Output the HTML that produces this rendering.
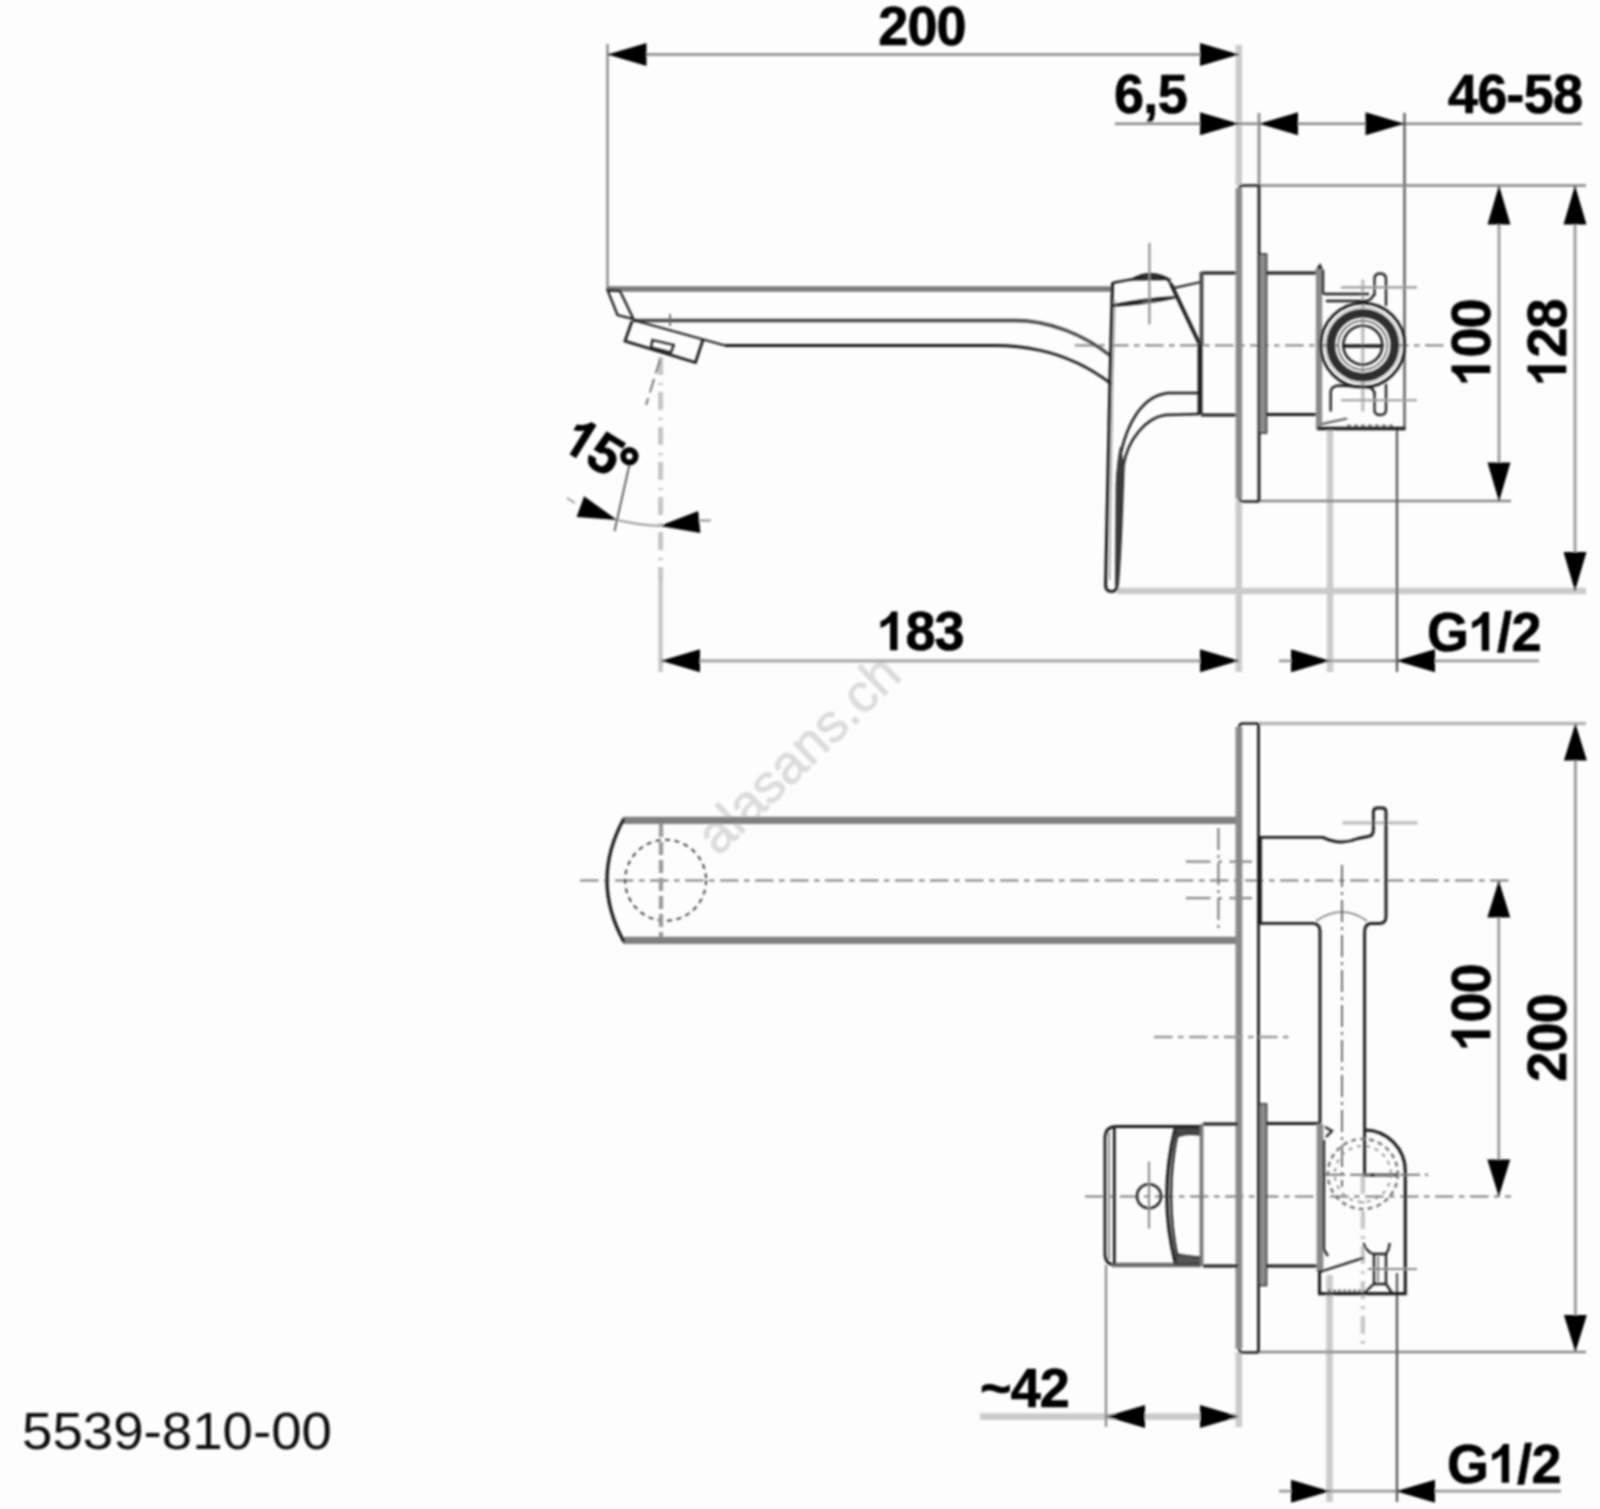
<!DOCTYPE html>
<html><head><meta charset="utf-8"><title>5539-810-00</title>
<style>
html,body{margin:0;padding:0;background:#fdfdfd;}
svg{display:block;font-family:"Liberation Sans",sans-serif;}
</style></head>
<body>
<svg width="1600" height="1509" viewBox="0 0 1600 1509">
<defs><filter id="b" x="-2%" y="-2%" width="104%" height="104%"><feGaussianBlur stdDeviation="0.9"/></filter></defs>
<rect width="1600" height="1509" fill="#fdfdfd"/>
<g filter="url(#b)" stroke-linecap="butt">
<line x1="1238.8" y1="45" x2="1238.8" y2="186" stroke="#cbcbcb" stroke-width="6.6" />
<line x1="1238.8" y1="500" x2="1238.8" y2="672" stroke="#cbcbcb" stroke-width="6.6" />
<line x1="1117" y1="591" x2="1586" y2="591" stroke="#cbcbcb" stroke-width="6.6" />
<line x1="1330" y1="429" x2="1330" y2="672" stroke="#cbcbcb" stroke-width="6.6" />
<line x1="660.6" y1="357" x2="660.6" y2="580" stroke="#c4c4c4" stroke-width="4.8" stroke-dasharray="18 8 2 7"/>
<line x1="660.6" y1="578" x2="660.6" y2="672" stroke="#c4c4c4" stroke-width="4.3" />
<line x1="1362.8" y1="279.5" x2="1362.8" y2="411.5" stroke="#bdbdbd" stroke-width="3.3" />
<line x1="1259" y1="723.5" x2="1586" y2="723.5" stroke="#b4b4b4" stroke-width="3.3" />
<line x1="980" y1="1416.6" x2="1239" y2="1416.6" stroke="#cbcbcb" stroke-width="6.6" />
<line x1="1238.8" y1="1352" x2="1238.8" y2="1427" stroke="#cbcbcb" stroke-width="6.6" />
<line x1="1329.5" y1="1275" x2="1329.5" y2="1502" stroke="#cbcbcb" stroke-width="6.6" />
<line x1="1362.8" y1="1176" x2="1362.8" y2="1352" stroke="#c8c8c8" stroke-width="4.3" stroke-dasharray="18 7 3 7"/>
<line x1="1342.5" y1="822.8" x2="1417.5" y2="822.8" stroke="#bdbdbd" stroke-width="3.3" />
<text x="718" y="857" font-size="54" font-weight="normal" text-anchor="start" fill="#dcdcdc" transform="rotate(-44 718 857)" stroke="#dcdcdc" stroke-width="1">alasans.ch</text>
<line x1="607.5" y1="54.5" x2="1239" y2="54.5" stroke="#9a9a9a" stroke-width="2.8" />
<line x1="607.5" y1="44" x2="607.5" y2="290" stroke="#868686" stroke-width="2.3" />
<polygon points="607.5,54.5 646.5,43.0 646.5,66.0" fill="#000"/>
<polygon points="1239.0,54.5 1200.0,66.0 1200.0,43.0" fill="#000"/>
<g transform="translate(922 46) scale(1 1.04) translate(0 -0.7)" font-size="54" font-weight="bold" fill="#000" stroke="#000" stroke-width="0.7">
<text x="-43.78" y="0">2</text>
<text x="-14.59" y="0">0</text>
<text x="14.59" y="0">0</text>
</g>
<line x1="1115" y1="123.75" x2="1582" y2="123.75" stroke="#868686" stroke-width="2.3" />
<polygon points="1239.0,123.8 1200.0,135.2 1200.0,112.2" fill="#000"/>
<polygon points="1259.0,123.8 1298.0,112.2 1298.0,135.2" fill="#000"/>
<polygon points="1404.5,123.8 1365.5,135.2 1365.5,112.2" fill="#000"/>
<g transform="translate(1114 113.5) scale(1 1.04) translate(0 -0.7)" font-size="54" font-weight="bold" fill="#000" stroke="#000" stroke-width="0.7">
<text x="0.00" y="0">6</text>
<text x="29.19" y="0">,</text>
<text x="43.77" y="0">5</text>
</g>
<g transform="translate(1448 113.5) scale(1 1.04) translate(0 -0.7)" font-size="54" font-weight="bold" fill="#000" stroke="#000" stroke-width="0.7">
<text x="0.00" y="0">4</text>
<text x="29.19" y="0">6</text>
<text x="58.37" y="0">-</text>
<text x="75.87" y="0">5</text>
<text x="105.06" y="0">8</text>
</g>
<line x1="1259" y1="113" x2="1259" y2="186" stroke="#8a8a8a" stroke-width="2.8" />
<line x1="1404.5" y1="113" x2="1404.5" y2="429" stroke="#555" stroke-width="2.3" />
<line x1="1259" y1="185.5" x2="1586" y2="185.5" stroke="#868686" stroke-width="2.5" />
<line x1="1259" y1="501" x2="1511" y2="501" stroke="#868686" stroke-width="2.3" />
<line x1="1499" y1="186" x2="1499" y2="501" stroke="#9a9a9a" stroke-width="2.8" />
<line x1="1575" y1="186" x2="1575" y2="591" stroke="#9a9a9a" stroke-width="2.8" />
<polygon points="1499.0,185.5 1510.5,224.5 1487.5,224.5" fill="#000"/>
<polygon points="1499.0,501.5 1487.5,462.5 1510.5,462.5" fill="#000"/>
<polygon points="1575.0,185.5 1586.5,224.5 1563.5,224.5" fill="#000"/>
<polygon points="1575.0,591.0 1563.5,552.0 1586.5,552.0" fill="#000"/>
<g transform="translate(1491 343) rotate(-90) scale(1 1.04) translate(0 -0.7)" font-size="54" font-weight="bold" fill="#000" stroke="#000" stroke-width="0.7">
<path d="M806 0H525V1059Q371 915 162 846V1101Q272 1137 401 1237.5Q530 1338 578 1472H806Z" transform="translate(-43.78 0) scale(0.02637 -0.02535)"/>
<text x="-14.59" y="0">0</text>
<text x="14.59" y="0">0</text>
</g>
<g transform="translate(1567 343) rotate(-90) scale(1 1.04) translate(0 -0.7)" font-size="54" font-weight="bold" fill="#000" stroke="#000" stroke-width="0.7">
<path d="M806 0H525V1059Q371 915 162 846V1101Q272 1137 401 1237.5Q530 1338 578 1472H806Z" transform="translate(-43.78 0) scale(0.02637 -0.02535)"/>
<text x="-14.59" y="0">2</text>
<text x="14.59" y="0">8</text>
</g>
<line x1="661" y1="660.8" x2="1239" y2="660.8" stroke="#a8a8a8" stroke-width="3.3" />
<polygon points="661.0,660.8 700.0,649.3 700.0,672.3" fill="#000"/>
<polygon points="1239.0,660.8 1200.0,672.3 1200.0,649.3" fill="#000"/>
<g transform="translate(920 651) scale(1 1.04) translate(0 -0.7)" font-size="54" font-weight="bold" fill="#000" stroke="#000" stroke-width="0.7">
<path d="M806 0H525V1059Q371 915 162 846V1101Q272 1137 401 1237.5Q530 1338 578 1472H806Z" transform="translate(-43.78 0) scale(0.02637 -0.02535)"/>
<text x="-14.59" y="0">8</text>
<text x="14.59" y="0">3</text>
</g>
<line x1="1279" y1="660.8" x2="1539" y2="660.8" stroke="#9a9a9a" stroke-width="2.8" />
<polygon points="1330.0,660.8 1291.0,672.3 1291.0,649.3" fill="#000"/>
<polygon points="1396.0,660.8 1435.0,649.3 1435.0,672.3" fill="#000"/>
<g transform="translate(1427 651.5) scale(1 1.04) translate(0 -0.7)" font-size="54" font-weight="bold" fill="#000" stroke="#000" stroke-width="0.7">
<text x="0.00" y="0">G</text>
<path d="M806 0H525V1059Q371 915 162 846V1101Q272 1137 401 1237.5Q530 1338 578 1472H806Z" transform="translate(40.82 0) scale(0.02637 -0.02535)"/>
<text x="70.01" y="0">/</text>
<text x="84.59" y="0">2</text>
</g>
<line x1="1397" y1="429" x2="1397" y2="672" stroke="#555" stroke-width="2.3" />
<line x1="660" y1="360" x2="646" y2="405" stroke="#666" stroke-width="1.8" stroke-dasharray="14 6"/>
<line x1="629.4" y1="465" x2="614.5" y2="531" stroke="#555" stroke-width="1.8" />
<path d="M617,520 Q638,525 660,526" stroke="#999" stroke-width="1.8" fill="none" />
<polygon points="617.0,520.0 576.6,517.0 584.1,496.3" fill="#000"/>
<polygon points="659.5,526.0 698.2,511.1 700.4,532.9" fill="#000"/>
<line x1="699" y1="520.5" x2="711" y2="520.5" stroke="#888" stroke-width="1.8" />
<line x1="567" y1="498" x2="575" y2="503" stroke="#999" stroke-width="1.8" />
<g transform="translate(557.5 447.5) rotate(32) scale(1 1.04) translate(0 -0.7)" font-size="54" font-weight="bold" fill="#000" stroke="#000" stroke-width="0.7">
<path d="M806 0H525V1059Q371 915 162 846V1101Q272 1137 401 1237.5Q530 1338 578 1472H806Z" transform="translate(0.00 0) scale(0.02637 -0.02535)"/>
<text x="29.19" y="0">5</text>
</g>
<circle cx="629.4" cy="456.3" r="6.2" fill="none" stroke="#000" stroke-width="6"/>
<line x1="1075" y1="345.3" x2="1444" y2="345.3" stroke="#8c8c8c" stroke-width="2.3" stroke-dasharray="18.5 5.5 5.5 5.5"/>
<line x1="607.5" y1="289" x2="1112" y2="289" stroke="#7a7a7a" stroke-width="5.3" />
<path d="M607.5,290 L620,291 L633.5,319 L617.5,315 Z" stroke="#1c1c1c" stroke-width="2.3" fill="none" />
<path d="M633,320.5 L1015,320.5 C1050,320.5 1085,335 1112,357" stroke="#4a4a4a" stroke-width="3.3" fill="none" />
<path d="M725,345.5 L995,345.5 C1040,345.5 1078,358 1112,384.4" stroke="#1c1c1c" stroke-width="2.8" fill="none" />
<line x1="633" y1="320" x2="725" y2="345.5" stroke="#1c1c1c" stroke-width="2.3" />
<path d="M632,321 L625,341 L695.5,362.5 L703,339.5" stroke="#1c1c1c" stroke-width="2.8" fill="none" />
<path d="M652.5,340 L673.75,345 L671,352.5 L651,347.5 Z" stroke="#1c1c1c" stroke-width="2.3" fill="none" />
<line x1="670" y1="314" x2="670" y2="326" stroke="#666" stroke-width="1.8" />
<path d="M1112.5,283 L1110,380 L1105.6,586 Q1106,591.5 1111.5,591.5 Q1117,591.5 1117,586" stroke="#1c1c1c" stroke-width="3.0999999999999996" fill="none" />
<path d="M1115,300 L1112.5,380 L1109.5,580" stroke="#aaa" stroke-width="1.8" fill="none" />
<path d="M1200,393 L1168,393 C1140,396 1120,430 1117,484 L1116.5,586" stroke="#1c1c1c" stroke-width="2.5" fill="none" />
<path d="M1200,414 L1165,415 C1145,418 1128,440 1123.5,465 C1122,500 1121,550 1117.5,586" stroke="#1c1c1c" stroke-width="2.5" fill="none" />
<path d="M1123.5,465 C1122,500 1121,550 1117.5,586 L1116,586 L1116.5,484 C1117,470 1118.5,455 1120.5,447 Z" stroke="#3a3a3a" stroke-width="1.1" fill="#3a3a3a" />
<path d="M1112,283 L1134,278.8" stroke="#1c1c1c" stroke-width="2.3" fill="none" />
<path d="M1132.5,279.3 Q1150,269 1168,279 Z" stroke="#1c1c1c" stroke-width="2.3" fill="#333" />
<path d="M1167,278.5 L1173.75,288 L1201,282" stroke="#1c1c1c" stroke-width="2.3" fill="none" />
<path d="M1113,305.5 Q1145,299 1175,297.5 Q1145,304 1113,305.5 Z" stroke="#1c1c1c" stroke-width="2.3" fill="none" />
<line x1="1171" y1="284" x2="1200" y2="345" stroke="#1c1c1c" stroke-width="3.6999999999999997" />
<path d="M1238,273 L1201,273 M1201,415 L1238,415" stroke="#1c1c1c" stroke-width="2.9" fill="none" />
<line x1="1201.5" y1="272" x2="1201.5" y2="346" stroke="#4a4a4a" stroke-width="3.9" />
<line x1="1200" y1="345" x2="1200" y2="414" stroke="#1c1c1c" stroke-width="4.8" />
<line x1="1149.4" y1="243" x2="1149.4" y2="324.5" stroke="#8a8a8a" stroke-width="2.1" />
<line x1="1143" y1="302" x2="1156" y2="302" stroke="#666" stroke-width="1.8" />
<path d="M1259,185.5 L1243,185.5 Q1239,185.5 1239,190 L1239,497 Q1239,501.5 1243,501.5 L1259,501.5" stroke="#1c1c1c" stroke-width="2.3" fill="none" />
<line x1="1238.9" y1="188" x2="1238.9" y2="499" stroke="#8a8a8a" stroke-width="6.6" />
<line x1="1259" y1="185.5" x2="1259" y2="501.5" stroke="#1c1c1c" stroke-width="2.8" />
<rect x="1259" y="254" width="7.5" height="179" fill="#8c8c8c" stroke="#1c1c1c" stroke-width="1.5"/>
<line x1="1267" y1="273" x2="1318" y2="273" stroke="#1c1c1c" stroke-width="2.8" />
<line x1="1267" y1="414.5" x2="1318" y2="414.5" stroke="#1c1c1c" stroke-width="2.8" />
<path d="M1317,270 L1320,265.5 L1322,270 Z" stroke="#1c1c1c" stroke-width="2.3" fill="#444" />
<line x1="1319" y1="269" x2="1319" y2="429" stroke="#8a8a8a" stroke-width="6.3" />
<line x1="1323" y1="270" x2="1323" y2="293" stroke="#1c1c1c" stroke-width="2.3" />
<line x1="1317" y1="428.5" x2="1405.5" y2="428.5" stroke="#1c1c1c" stroke-width="3.3" />
<circle cx="1362.8" cy="345.2" r="42" fill="none" stroke="#1c1c1c" stroke-width="2.8"/>
<circle cx="1362.8" cy="345.2" r="38" fill="none" stroke="#999" stroke-width="1"/>
<circle cx="1362.8" cy="345.2" r="32" fill="none" stroke="#2e2e2e" stroke-width="8.5"/>
<circle cx="1362.8" cy="345.2" r="24.5" fill="none" stroke="#555" stroke-width="1.5"/>
<circle cx="1362.8" cy="345.2" r="19.5" fill="none" stroke="#1c1c1c" stroke-width="2.5"/>
<line x1="1342.8" y1="346" x2="1382.8" y2="346" stroke="#1c1c1c" stroke-width="3.3" />
<path d="M1323,293 Q1323,294 1326,294 L1369,294" stroke="#1c1c1c" stroke-width="2.3" fill="none" />
<path d="M1326,301 L1366,301 Q1372,300 1374,294" stroke="#1c1c1c" stroke-width="2.3" fill="none" />
<path d="M1374.5,296 L1374.5,279 Q1374.5,273.5 1380,273.5 Q1386,273.5 1386,279 L1386,306" stroke="#1c1c1c" stroke-width="2.3" fill="none" />
<line x1="1341" y1="287.4" x2="1417" y2="287.4" stroke="#9a9a9a" stroke-width="2.1" />
<path d="M1330.7,411.5 L1330.7,392 Q1331,386 1339,385.5 L1368,387 Q1374,388 1374.5,394" stroke="#1c1c1c" stroke-width="2.3" fill="none" />
<path d="M1374.5,392 L1374.5,410 Q1374.5,415 1380,415 Q1386,415 1386,410 L1386,384" stroke="#1c1c1c" stroke-width="2.3" fill="none" />
<line x1="1341" y1="400.3" x2="1417" y2="400.3" stroke="#9a9a9a" stroke-width="2.1" />
<line x1="1347" y1="425.7" x2="1395" y2="425.7" stroke="#555" stroke-width="1.8" stroke-dasharray="4 3"/>
<path d="M1322,424 L1347,418.5" stroke="#555" stroke-width="1.8" fill="none" />
<line x1="1259" y1="1352" x2="1586" y2="1352" stroke="#868686" stroke-width="2.5" />
<line x1="1575.4" y1="724" x2="1575.4" y2="1352" stroke="#9a9a9a" stroke-width="2.8" />
<polygon points="1575.4,723.5 1586.9,760.5 1563.9,760.5" fill="#000"/>
<polygon points="1575.4,1352.0 1563.9,1315.0 1586.9,1315.0" fill="#000"/>
<line x1="1498.8" y1="881" x2="1498.8" y2="1196" stroke="#9a9a9a" stroke-width="2.8" />
<polygon points="1498.8,880.5 1510.3,917.5 1487.3,917.5" fill="#000"/>
<polygon points="1498.8,1196.5 1487.3,1159.5 1510.3,1159.5" fill="#000"/>
<g transform="translate(1491 1008) rotate(-90) scale(1 1.04) translate(0 -0.7)" font-size="54" font-weight="bold" fill="#000" stroke="#000" stroke-width="0.7">
<path d="M806 0H525V1059Q371 915 162 846V1101Q272 1137 401 1237.5Q530 1338 578 1472H806Z" transform="translate(-43.78 0) scale(0.02637 -0.02535)"/>
<text x="-14.59" y="0">0</text>
<text x="14.59" y="0">0</text>
</g>
<g transform="translate(1567 1038) rotate(-90) scale(1 1.04) translate(0 -0.7)" font-size="54" font-weight="bold" fill="#000" stroke="#000" stroke-width="0.7">
<text x="-43.78" y="0">2</text>
<text x="-14.59" y="0">0</text>
<text x="14.59" y="0">0</text>
</g>
<line x1="1106" y1="1265" x2="1106" y2="1427" stroke="#8a8a8a" stroke-width="2.3" />
<polygon points="1106.0,1416.6 1145.0,1405.1 1145.0,1428.1" fill="#000"/>
<polygon points="1239.0,1416.6 1200.0,1428.1 1200.0,1405.1" fill="#000"/>
<g transform="translate(980 1408) scale(1 1.04) translate(0 -0.7)" font-size="54" font-weight="bold" fill="#000" stroke="#000" stroke-width="0.7">
<text x="0.00" y="0">~</text>
<text x="30.67" y="0">4</text>
<text x="59.86" y="0">2</text>
</g>
<line x1="1279" y1="1491.2" x2="1561" y2="1491.2" stroke="#9a9a9a" stroke-width="2.8" />
<polygon points="1330.0,1491.2 1291.0,1502.7 1291.0,1479.7" fill="#000"/>
<polygon points="1396.0,1491.2 1435.0,1479.7 1435.0,1502.7" fill="#000"/>
<g transform="translate(1447 1483.5) scale(1 1.04) translate(0 -0.7)" font-size="54" font-weight="bold" fill="#000" stroke="#000" stroke-width="0.7">
<text x="0.00" y="0">G</text>
<path d="M806 0H525V1059Q371 915 162 846V1101Q272 1137 401 1237.5Q530 1338 578 1472H806Z" transform="translate(40.82 0) scale(0.02637 -0.02535)"/>
<text x="70.01" y="0">/</text>
<text x="84.59" y="0">2</text>
</g>
<line x1="1397" y1="1273" x2="1397" y2="1502" stroke="#555" stroke-width="2.3" />
<line x1="580" y1="880.4" x2="1511" y2="880.4" stroke="#7d7d7d" stroke-width="2.0" stroke-dasharray="18.5 5.5 5.5 5.5"/>
<line x1="1085" y1="1196.5" x2="1511" y2="1196.5" stroke="#7d7d7d" stroke-width="2.0" stroke-dasharray="18.5 5.5 5.5 5.5"/>
<line x1="623" y1="820.3" x2="1238" y2="820.3" stroke="#808080" stroke-width="7.3" />
<line x1="623" y1="940.3" x2="1238" y2="940.3" stroke="#808080" stroke-width="7.3" />
<path d="M624,818.5 Q590,880 624,942" stroke="#1c1c1c" stroke-width="3.3" fill="none" />
<circle cx="665.6" cy="880.3" r="40.5" fill="none" stroke="#444" stroke-width="2" stroke-dasharray="5 4.5"/>
<line x1="661" y1="824" x2="661" y2="937" stroke="#9a9a9a" stroke-width="4.3" stroke-dasharray="13 5"/>
<line x1="1218.4" y1="828" x2="1218.4" y2="932" stroke="#777" stroke-width="2.1" stroke-dasharray="22 5 3 5"/>
<line x1="1186" y1="861.6" x2="1252" y2="861.6" stroke="#888" stroke-width="2.3" stroke-dasharray="24.5 7.5 4 7.5"/>
<line x1="1186" y1="898.2" x2="1252" y2="898.2" stroke="#888" stroke-width="2.3" stroke-dasharray="24.5 7.5 4 7.5"/>
<path d="M1258.5,723.5 L1243,723.5 Q1239,723.5 1239,728 L1239,1348 Q1239,1352.5 1243,1352.5 L1258.5,1352.5" stroke="#1c1c1c" stroke-width="2.5" fill="none" />
<line x1="1238.9" y1="727" x2="1238.9" y2="1349" stroke="#8a8a8a" stroke-width="6.8" />
<line x1="1258.5" y1="723.5" x2="1258.5" y2="1352.5" stroke="#1c1c1c" stroke-width="2.8" />
<line x1="1259.5" y1="837" x2="1259.5" y2="923.5" stroke="#1c1c1c" stroke-width="4.8" />
<path d="M1259,837.4 L1323,837.4 Q1340,846 1358,838.5 L1368,836.5 Q1373.4,836 1373.4,830 L1373.4,812 Q1373.4,808 1377.5,808 L1382,808 Q1386,808 1386,812 L1386,917 Q1386,923.5 1379,923.5 L1371,923.5 Q1365,924 1364.6,931 L1364.6,1175 L1398,1175" stroke="#1c1c1c" stroke-width="2.9" fill="none" />
<path d="M1259,923.4 L1313,923.4 Q1320,924 1320,931 L1320,1123.5" stroke="#1c1c1c" stroke-width="2.9" fill="none" />
<path d="M1316,921 Q1342,903 1367,921" stroke="#777" stroke-width="1.6" fill="none" />
<line x1="1342" y1="865" x2="1342" y2="1187" stroke="#666" stroke-width="1.9000000000000001" stroke-dasharray="22 5 3 5"/>
<line x1="1154" y1="1037" x2="1289" y2="1037" stroke="#999" stroke-width="2.3" stroke-dasharray="18.5 5.5 5.5 5.5"/>
<path d="M1201,1126.5 L1116,1126.5 Q1105,1127 1105,1138 L1105,1254 Q1105,1265 1116,1265 L1201,1265" stroke="#1c1c1c" stroke-width="2.8" fill="none" />
<line x1="1112" y1="1265" x2="1201" y2="1265" stroke="#6a6a6a" stroke-width="4.3" />
<line x1="1114.3" y1="1128" x2="1114.3" y2="1264" stroke="#1c1c1c" stroke-width="2.8" />
<line x1="1109" y1="1132" x2="1109" y2="1260" stroke="#999" stroke-width="2.3" />
<path d="M1175.4,1128 Q1158.5,1196 1175.4,1263" stroke="#1c1c1c" stroke-width="3.3" fill="none" />
<path d="M1177.5,1133 Q1164.5,1196 1177.5,1258" stroke="#1c1c1c" stroke-width="2.3" fill="none" />
<path d="M1175,1128 L1200,1128 L1200,1135 Q1185,1133 1177.5,1137 Z" stroke="#333" stroke-width="1.3" fill="#444" />
<path d="M1175,1264 L1200,1264 L1200,1257 Q1185,1256 1177.5,1254 Z" stroke="#333" stroke-width="1.3" fill="#555" />
<line x1="1201.5" y1="1124" x2="1201.5" y2="1266" stroke="#777" stroke-width="3.8" />
<path d="M1238,1124 L1203,1124" stroke="#1c1c1c" stroke-width="2.8" fill="none" />
<path d="M1238,1266 L1203,1266" stroke="#1c1c1c" stroke-width="2.8" fill="none" />
<circle cx="1149" cy="1196.2" r="12" fill="none" stroke="#1c1c1c" stroke-width="2.5"/>
<line x1="1149" y1="1161.6" x2="1149" y2="1228.7" stroke="#8a8a8a" stroke-width="2.1" />
<rect x="1259" y="1104" width="7.5" height="181.5" fill="#8c8c8c" stroke="#1c1c1c" stroke-width="1.5"/>
<line x1="1267" y1="1123.5" x2="1320" y2="1123.5" stroke="#1c1c1c" stroke-width="2.9" />
<line x1="1267" y1="1266" x2="1318" y2="1266" stroke="#1c1c1c" stroke-width="2.9" />
<line x1="1320" y1="1124" x2="1320" y2="1272" stroke="#8a8a8a" stroke-width="6.8" />
<line x1="1324" y1="1140" x2="1324" y2="1250" stroke="#1c1c1c" stroke-width="2.3" />
<path d="M1325,1127 L1332,1131 L1326,1137" stroke="#1c1c1c" stroke-width="2.3" fill="none" />
<path d="M1324,1250 L1328,1256" stroke="#1c1c1c" stroke-width="2.3" fill="none" />
<path d="M1364.6,1130 A41,41 0 0 1 1405.3,1171 L1405.3,1293.6 L1319.5,1293.6 L1319.5,1270" stroke="#1c1c1c" stroke-width="3.0999999999999996" fill="none" />
<circle cx="1362.8" cy="1174" r="35" fill="none" stroke="#777" stroke-width="2.5" stroke-dasharray="5 4"/>
<circle cx="1362.8" cy="1174" r="28" fill="none" stroke="#999" stroke-width="2" stroke-dasharray="4 5"/>
<line x1="1325" y1="1174.7" x2="1428" y2="1174.7" stroke="#777" stroke-width="2.1" stroke-dasharray="20 5"/>
<line x1="1319.5" y1="1272" x2="1363.5" y2="1257.8" stroke="#1c1c1c" stroke-width="2.3" />
<path d="M1363.5,1243 Q1366,1252 1374,1254 L1386,1254 Q1389,1250 1389.6,1243" stroke="#1c1c1c" stroke-width="2.3" fill="none" />
<line x1="1374" y1="1254" x2="1374" y2="1284" stroke="#1c1c1c" stroke-width="2.3" />
<line x1="1386" y1="1254" x2="1386" y2="1284" stroke="#1c1c1c" stroke-width="2.3" />
<line x1="1378" y1="1256" x2="1378" y2="1282" stroke="#777" stroke-width="1.8" />
<path d="M1364,1293 L1374,1284 L1386,1284 L1392,1293" stroke="#1c1c1c" stroke-width="2.3" fill="none" />
<line x1="1368" y1="1269" x2="1417" y2="1269" stroke="#888" stroke-width="1.9000000000000001" />
<line x1="1328" y1="1290.6" x2="1364" y2="1290.6" stroke="#555" stroke-width="1.8" stroke-dasharray="3 2"/>
<text x="22" y="1448.5" font-size="52" font-weight="normal" text-anchor="start" fill="#111" textLength="310" lengthAdjust="spacingAndGlyphs">5539-810-00</text>
</g>
</svg>
</body></html>
